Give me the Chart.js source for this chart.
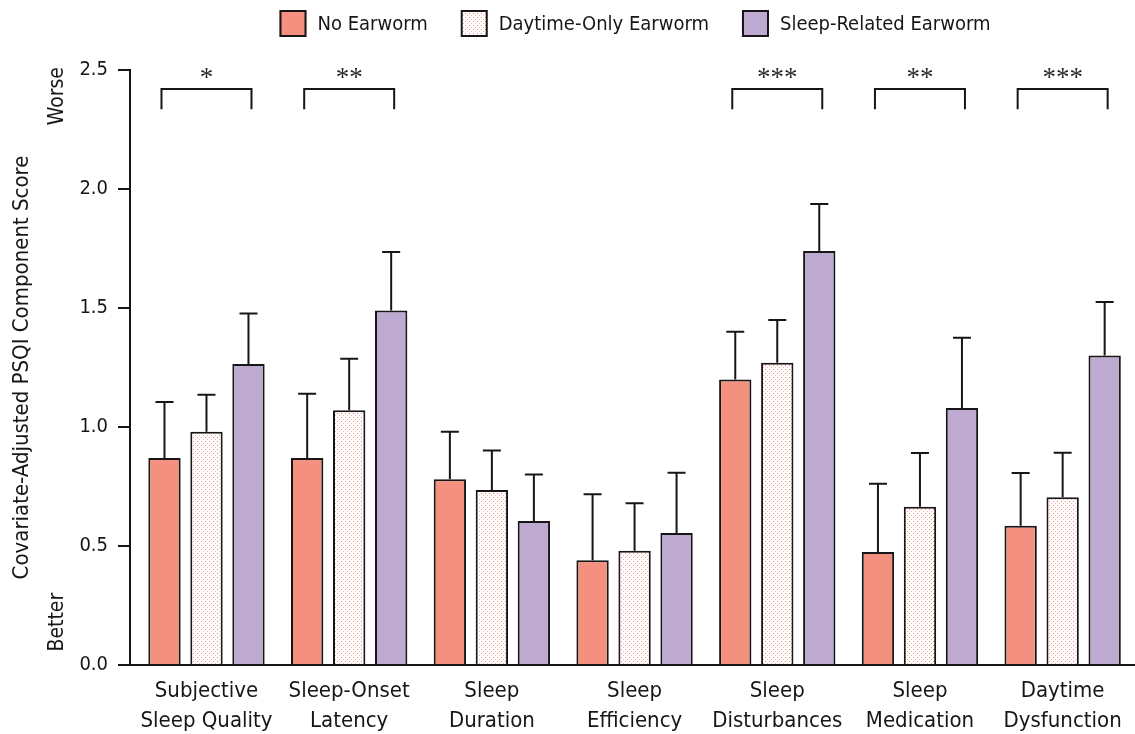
<!DOCTYPE html>
<html>
<head>
<meta charset="utf-8">
<script src="https://cdn.jsdelivr.net/npm/chart.js@4.4.1/dist/chart.umd.min.js"></script>
<style>
    html, body { margin: 0; padding: 0; background: #fff; }
</style>
</head>
<body>
<canvas id="psqiChart" width="1135" height="734"></canvas>
<script>
const categories = [
    ['Subjective', 'Sleep Quality'],
    ['Sleep-Onset', 'Latency'],
    ['Sleep', 'Duration'],
    ['Sleep', 'Efficiency'],
    ['Sleep', 'Disturbances'],
    ['Sleep', 'Medication'],
    ['Daytime', 'Dysfunction']
];
const seriesNames = ['No Earworm', 'Daytime-Only Earworm', 'Sleep-Related Earworm'];

// covariate-adjusted means
const noEarworm = [0.87, 0.87, 0.78, 0.44, 1.20, 0.475, 0.585];
const daytimeOnly = [0.98, 1.07, 0.735, 0.48, 1.27, 0.665, 0.705];
const sleepRelated = [1.265, 1.49, 0.605, 0.555, 1.74, 1.08, 1.30];

// standard errors (upper bar only)
const noEarwormSE = [0.235, 0.27, 0.20, 0.277, 0.20, 0.287, 0.222];
const daytimeOnlySE = [0.155, 0.217, 0.166, 0.20, 0.18, 0.226, 0.187];
const sleepRelatedSE = [0.212, 0.245, 0.195, 0.253, 0.197, 0.295, 0.225];

const sigLabels = ['*', '**', '', '', '***', '**', '***'];
const yTicks = [0, 0.5, 1.0, 1.5, 2.0, 2.5];

const INK = '#161616';
const RED = '#F4907F';
const PURPLE = '#BEAAD0';
const SANS = '"DejaVu Sans Condensed", "Liberation Sans Narrow", sans-serif';
const SERIF = '"Liberation Serif", "DejaVu Serif", serif';

function makeDots() {
    const tile = document.createElement('canvas');
    tile.width = 4;
    tile.height = 4;
    const t = tile.getContext('2d');
    t.fillStyle = '#fff';
    t.fillRect(0, 0, 4, 4);
    t.fillStyle = '#F5806F';
    t.fillRect(1, 1, 1, 1);
    t.fillStyle = '#F9B3A8';
    t.fillRect(3, 3, 1, 1);
    return t.createPattern(tile, 'repeat');
}

const ctx = document.getElementById('psqiChart').getContext('2d');
const dots = makeDots();

const errorBars = {
    id: 'errorBars',
    afterDatasetsDraw(chart) {
        const { ctx, scales: { y } } = chart;
        ctx.save();
        ctx.strokeStyle = INK;
        ctx.lineWidth = 2;
        chart.data.datasets.forEach((ds, di) => {
            chart.getDatasetMeta(di).data.forEach((bar, i) => {
                const top = y.getPixelForValue(ds.data[i] + ds.se[i]);
                ctx.beginPath();
                ctx.moveTo(bar.x, bar.y);
                ctx.lineTo(bar.x, top);
                ctx.moveTo(bar.x - 9, top);
                ctx.lineTo(bar.x + 9, top);
                ctx.stroke();
            });
        });
        ctx.restore();
    }
};

const brackets = {
    id: 'brackets',
    afterDatasetsDraw(chart) {
        const { ctx, scales: { y } } = chart;
        const first = chart.getDatasetMeta(0).data;
        const mid = chart.getDatasetMeta(1).data;
        const last = chart.getDatasetMeta(2).data;
        const yTop = y.getPixelForValue(2.42);
        const yLeg = y.getPixelForValue(2.335);
        const yStar = y.getPixelForValue(2.47);
        ctx.save();
        ctx.strokeStyle = INK;
        ctx.lineWidth = 2;
        ctx.fillStyle = '#2a2a2a';
        ctx.font = `27px ${SERIF}`;
        ctx.textAlign = 'center';
        ctx.textBaseline = 'middle';
        sigLabels.forEach((label, i) => {
            if (!label) return;
            const x0 = first[i].x - 3;
            const x1 = last[i].x + 3;
            ctx.beginPath();
            ctx.moveTo(x0, yLeg);
            ctx.lineTo(x0, yTop);
            ctx.lineTo(x1, yTop);
            ctx.lineTo(x1, yLeg);
            ctx.stroke();
            ctx.fillText(label, mid[i].x, yStar + 2);
        });
        ctx.restore();
    }
};

const sideNotes = {
    id: 'sideNotes',
    afterDraw(chart) {
        const { ctx, chartArea, scales: { y } } = chart;
        ctx.save();
        ctx.fillStyle = INK;
        ctx.font = `21px ${SANS}`;
        ctx.textAlign = 'center';
        ctx.textBaseline = 'middle';
        [['Worse', 2.39], ['Better', 0.18]].forEach(([text, v]) => {
            ctx.save();
            ctx.translate(chartArea.left - 72, y.getPixelForValue(v));
            ctx.rotate(-Math.PI / 2);
            ctx.fillText(text, 0, 0);
            ctx.restore();
        });
        ctx.restore();
    }
};

const legendRow = {
    id: 'legendRow',
    afterDraw(chart) {
        const { ctx, chartArea } = chart;
        const box = 27, gapText = 11, gapItem = 33, top = 10;
        ctx.save();
        ctx.font = `20px ${SANS}`;
        const widths = chart.data.datasets.map(ds => box + gapText + ctx.measureText(ds.label).width);
        const total = widths.reduce((a, b) => a + b, 0) + gapItem * (widths.length - 1);
        let x = (chartArea.left + chartArea.right) / 2 - total / 2 + 3;
        chart.data.datasets.forEach((ds, i) => {
            ctx.fillStyle = ds.backgroundColor;
            ctx.fillRect(x, top, box, box);
            ctx.lineWidth = 2;
            ctx.strokeStyle = INK;
            ctx.strokeRect(x + 1, top + 1, box - 2, box - 2);
            ctx.fillStyle = INK;
            ctx.textAlign = 'left';
            ctx.textBaseline = 'middle';
            ctx.fillText(ds.label, x + box + gapText, top + box / 2 + 1);
            x += widths[i] + gapItem;
        });
        ctx.restore();
    }
};

function series(label, values, se, color) {
    return {
        label,
        data: values,
        se,
        backgroundColor: color,
        borderColor: INK,
        borderWidth: 2,
        barPercentage: 0.77,
        categoryPercentage: 0.883
    };
}

new Chart(ctx, {
    type: 'bar',
    data: {
        labels: categories.map((_, i) => i),
        datasets: [
            series(seriesNames[0], noEarworm, noEarwormSE, RED),
            series(seriesNames[1], daytimeOnly, daytimeOnlySE, dots),
            series(seriesNames[2], sleepRelated, sleepRelatedSE, PURPLE)
        ]
    },
    options: {
        responsive: false,
        animation: false,
        layout: { padding: { top: 70, right: 1, left: 0, bottom: 0 } },
        plugins: {
            legend: { display: false },
            tooltip: { enabled: false }
        },
        scales: {
            x: {
                type: 'linear',
                offset: false,
                min: -0.536,
                max: 6.5,
                afterBuildTicks: s => { s.ticks = categories.map((_, i) => ({ value: i })); },
                afterFit: s => { s.height = 69; },
                grid: { display: false, offset: false },
                border: { color: INK, width: 2 },
                ticks: {
                    callback: v => categories[v],
                    autoSkip: false,
                    maxRotation: 0,
                    padding: 3,
                    color: INK,
                    font: { family: SANS, size: 22, lineHeight: 1.36 }
                }
            },
            y: {
                min: 0,
                max: 2.5,
                afterBuildTicks: s => { s.ticks = yTicks.map(v => ({ value: v })); },
                afterFit: s => { s.width = 130; },
                grid: { drawOnChartArea: false, drawTicks: true, tickLength: 12, color: INK, lineWidth: 2 },
                border: { color: INK, width: 2 },
                ticks: {
                    callback: v => v.toFixed(1),
                    padding: 10,
                    color: INK,
                    font: { family: SANS, size: 20 }
                },
                title: {
                    display: true,
                    text: 'Covariate-Adjusted PSQI Component Score',
                    color: INK,
                    padding: { top: 9, bottom: 0 },
                    font: { family: SANS, size: 22 }
                }
            }
        }
    },
    plugins: [errorBars, brackets, sideNotes, legendRow]
});
</script>
</body>
</html>
